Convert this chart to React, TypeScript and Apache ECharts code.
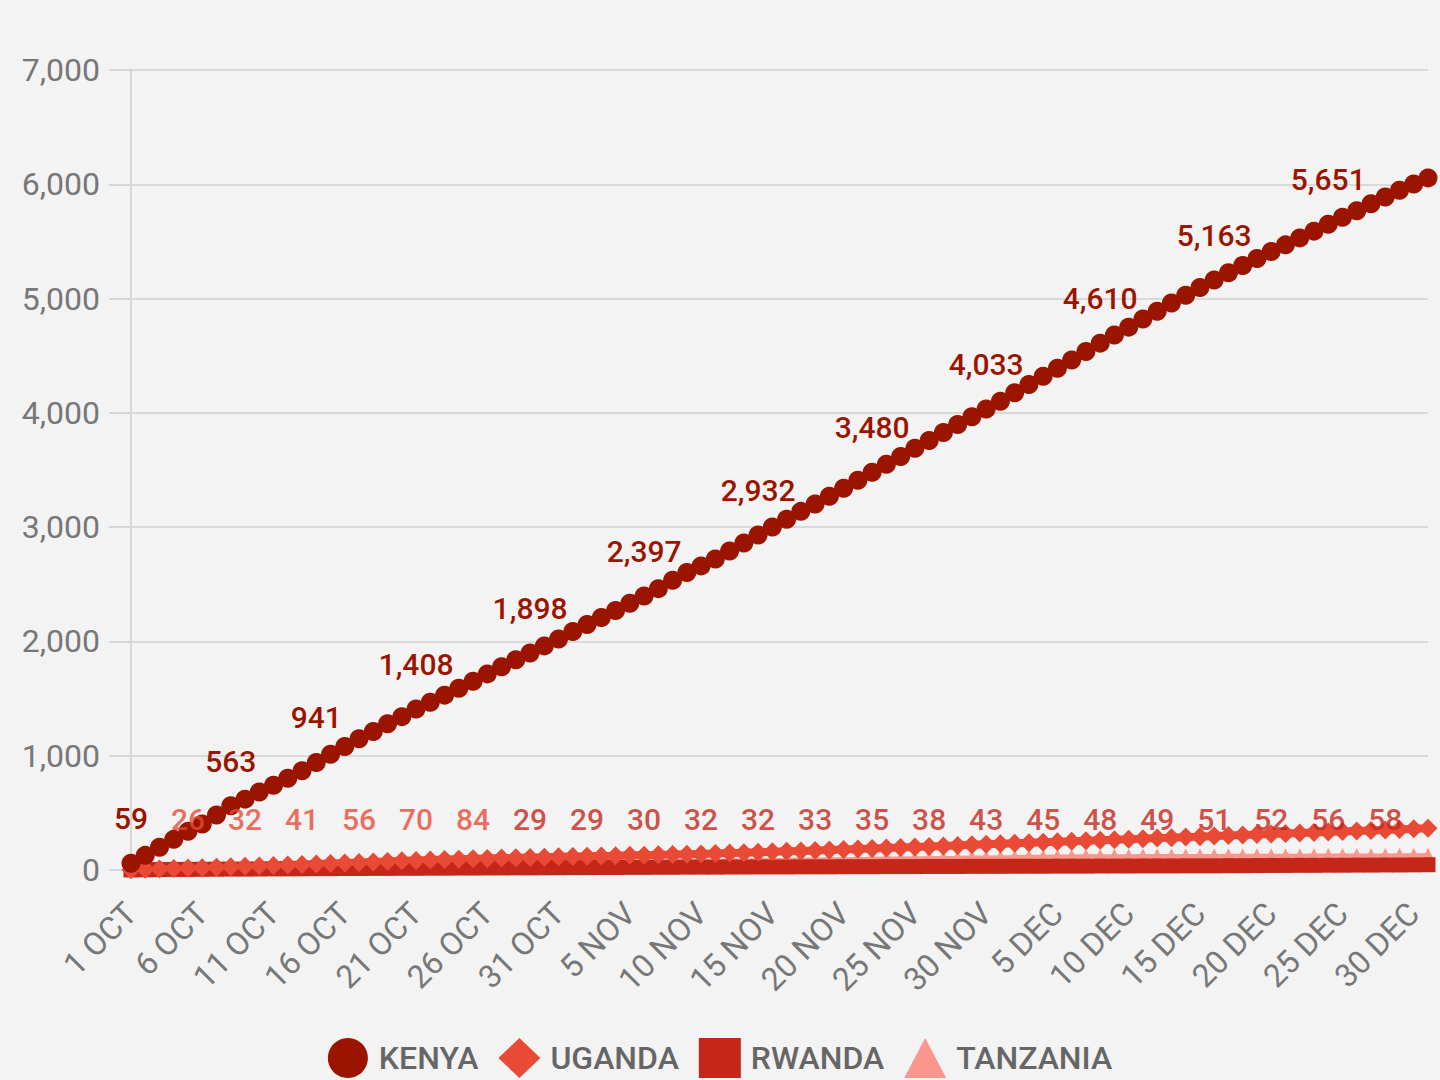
import React, { useEffect, useRef } from "react";
import * as echarts from "echarts";

const MONTHS: [string, number][] = [["OCT", 31], ["NOV", 30], ["DEC", 31]];
const DATES: string[] = MONTHS.flatMap(([m, n]) =>
  Array.from({ length: n }, (_, i) => `${i + 1} ${m}`)
);

const SERIES_NAMES = ["KENYA", "UGANDA", "RWANDA", "TANZANIA"];

const KENYA = [
  59, 128, 199, 268, 338, 402, 481, 563, 620, 682, 741, 803, 869, 941, 1012, 1080,
  1148, 1212, 1279, 1342, 1408, 1468, 1530, 1591, 1652, 1716, 1779, 1840, 1898, 1961,
  2022, 2086, 2149, 2209, 2271, 2334, 2397, 2462, 2535, 2603, 2661, 2722, 2791, 2861,
  2932, 3001, 3069, 3138, 3203, 3271, 3340, 3411, 3480, 3550, 3619, 3690, 3758, 3829,
  3898, 3966, 4033, 4101, 4176, 4249, 4321, 4391, 4462, 4536, 4610, 4681, 4750, 4821,
  4889, 4961, 5029, 5096, 5163, 5226, 5289, 5351, 5412, 5470, 5531, 5590, 5651, 5711,
  5769, 5830, 5889, 5948, 6002, 6056,
];

const UGANDA = [
  3, 6, 9, 13, 17, 20, 24, 28, 32, 36, 40, 44, 48, 53, 57, 62, 66, 71, 75, 80, 84, 88,
  92, 95, 98, 101, 104, 107, 110, 112, 115, 118, 120, 123, 125, 128, 130, 133, 135,
  138, 141, 144, 148, 151, 155, 159, 163, 167, 171, 175, 180, 184, 188, 193, 197, 201,
  206, 210, 215, 220, 225, 229, 234, 238, 243, 247, 252, 256, 261, 265, 270, 274, 279,
  283, 288, 292, 297, 301, 306, 310, 315, 319, 324, 328, 333, 337, 342, 346, 351, 355,
  360, 366,
];

const RWANDA = [
  2, 3, 4, 5, 5, 6, 7, 8, 8, 9, 10, 10, 11, 12, 12, 13, 13, 14, 14, 15, 15, 16, 16, 17,
  17, 18, 18, 19, 19, 20, 20, 21, 21, 22, 22, 23, 23, 24, 24, 25, 25, 25, 26, 26, 27,
  27, 27, 28, 28, 28, 29, 29, 29, 30, 30, 30, 31, 31, 31, 32, 32, 32, 33, 33, 33, 34,
  34, 34, 35, 35, 35, 36, 36, 36, 37, 37, 37, 38, 38, 39, 40, 40, 41, 41, 42, 42, 43,
  43, 44, 44, 45, 46,
];

const TANZANIA = [
  1, 3, 5, 7, 9, 11, 13, 15, 17, 19, 21, 23, 25, 27, 29, 31, 33, 35, 37, 39, 40, 42,
  44, 46, 48, 50, 52, 54, 56, 58, 60, 62, 64, 66, 68, 70, 72, 74, 76, 78, 80, 82, 83,
  85, 86, 88, 89, 91, 92, 94, 95, 97, 98, 100, 101, 103, 104, 106, 107, 109, 110, 112,
  113, 115, 116, 118, 119, 120, 120, 121, 121, 122, 122, 122, 123, 123, 123, 124, 124,
  124, 125, 125, 125, 126, 126, 126, 127, 127, 127, 128, 128, 128,
];

const KENYA_NOTE_INDEX = [0, 7, 13, 20, 28, 36, 44, 52, 60, 68, 76, 84];
const KENYA_NOTE_TEXT = ["59", "563", "941", "1,408", "1,898", "2,397", "2,932", "3,480", "4,033", "4,610", "5,163", "5,651"];

const UGANDA_NOTE_INDEX = [4, 8, 12, 16, 20, 24];
const UGANDA_NOTE_TEXT = ["26", "32", "41", "56", "70", "84"];

const RWANDA_NOTE_INDEX = [28, 32, 36, 40, 44, 48, 52, 56, 60, 64, 68, 72, 76, 80, 84, 88];
const RWANDA_NOTE_TEXT = ["29", "29", "30", "32", "32", "33", "35", "38", "43", "45", "48", "49", "51", "52", "56", "58"];

const COLORS = {
  KENYA: "#9b1400",
  UGANDA: "#e84a36",
  RWANDA: "#c4261a",
  TANZANIA: "#fa968b",
};

export default function App() {
  const ref = useRef<HTMLDivElement>(null);

  useEffect(() => {
    if (!ref.current) return;
    const chart = echarts.init(ref.current, undefined, { renderer: "svg" });
    const font = "Roboto, 'Liberation Sans', Arial, sans-serif";
    const NOTE_LEVEL = 440;

    const noteSeries = (name: string, idx: number[], text: string[], color: string) => ({
      name,
      type: "scatter",
      silent: true,
      symbolSize: 1,
      itemStyle: { color: "transparent" },
      z: 10,
      data: idx.map((i) => [i, NOTE_LEVEL]),
      label: {
        show: true,
        position: "inside",
        color,
        fontFamily: font,
        fontSize: 30,
        fontWeight: 500,
        formatter: (p: any) => text[p.dataIndex],
      },
    });

    const lineSeries = (name: string, data: number[], symbol: string, size: number, color: string, width: number) => ({
      name,
      type: "line",
      data,
      symbol,
      symbolSize: size,
      showAllSymbol: true,
      itemStyle: { color },
      lineStyle: { color, width },
    });

    chart.setOption({
      animation: false,
      backgroundColor: "#f3f3f3",
      grid: { left: 131, right: 12, top: 70, bottom: 210, containLabel: false },
      legend: {
        left: "center",
        top: 1033,
        itemWidth: 42,
        itemHeight: 40,
        itemGap: 20,
        data: [
          { name: "KENYA", icon: "circle" },
          { name: "UGANDA", icon: "diamond" },
          { name: "RWANDA", icon: "rect" },
          { name: "TANZANIA", icon: "triangle" },
        ],
        textStyle: { fontFamily: font, fontSize: 32, fontWeight: 500, color: "#666666", padding: [0, 0, 0, 5] },
      },
      xAxis: {
        type: "category",
        data: DATES,
        boundaryGap: false,
        axisLine: { show: false },
        axisTick: { show: false },
        splitLine: { show: false },
        axisLabel: {
          interval: 4,
          rotate: 45,
          margin: 38,
          fontFamily: font,
          fontSize: 32,
          color: "#777777",
        },
      },
      yAxis: {
        type: "value",
        min: 0,
        max: 7000,
        interval: 1000,
        axisLine: { show: true, lineStyle: { color: "#d6d6d6", width: 2 } },
        axisTick: { show: true, length: 22, lineStyle: { color: "#d6d6d6", width: 2 } },
        splitLine: { show: true, lineStyle: { color: "#d9d9d9", width: 2 } },
        axisLabel: {
          margin: 31,
          fontFamily: font,
          fontSize: 32,
          color: "#777777",
          formatter: (v: number) => v.toLocaleString("en-US"),
        },
      },
      series: [
        lineSeries("TANZANIA", TANZANIA, "triangle", 15, COLORS.TANZANIA, 4),
        lineSeries("RWANDA", RWANDA, "rect", 15, COLORS.RWANDA, 9),
        lineSeries("UGANDA", UGANDA, "diamond", 19, COLORS.UGANDA, 8),
        {
          ...lineSeries("KENYA", KENYA, "circle", 19, COLORS.KENYA, 8),
          label: {
            show: true,
            position: "top",
            distance: 20,
            color: COLORS.KENYA,
            fontFamily: font,
            fontSize: 30,
            fontWeight: 500,
            formatter: (p: any) => {
              const k = KENYA_NOTE_INDEX.indexOf(p.dataIndex);
              return k >= 0 ? KENYA_NOTE_TEXT[k] : "";
            },
          },
          z: 5,
        },
        noteSeries("UGANDA_NOTES", UGANDA_NOTE_INDEX, UGANDA_NOTE_TEXT, COLORS.UGANDA),
        noteSeries("RWANDA_NOTES", RWANDA_NOTE_INDEX, RWANDA_NOTE_TEXT, COLORS.RWANDA),
      ],
    });

    return () => chart.dispose();
  }, []);

  return (
    <div
      ref={ref}
      style={{ position: "fixed", left: 0, top: 0, width: 1440, height: 1080 }}
    />
  );
}
